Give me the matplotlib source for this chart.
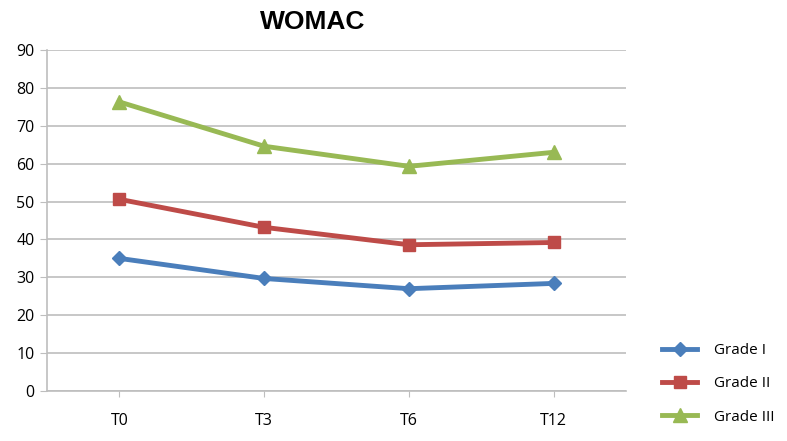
import matplotlib
matplotlib.use("Agg")
import matplotlib.pyplot as plt

categories = ["T0", "T3", "T6", "T12"]
grade1 = [35.0, 29.7, 27.0, 28.4]
grade2 = [50.6, 43.2, 38.6, 39.2]
grade3 = [76.3, 64.6, 59.3, 63.0]
series_names = ["Grade I", "Grade II", "Grade III"]
yticks = [0, 10, 20, 30, 40, 50, 60, 70, 80, 90]

plt.rcParams['font.family'] = ['Open Sans', 'DejaVu Sans']

W, H = 787, 441
fig = plt.figure(figsize=(W / 100, H / 100), dpi=100)
ax = fig.add_axes([47 / W, (H - 391) / H, 579 / W, 341 / H])

x = list(range(len(categories)))
colors = ["#4A7EBB", "#BE4B48", "#98B954"]
markers = ["D", "s", "^"]
msizes = [7, 9, 10]
for vals, c, m, ms, name in zip([grade1, grade2, grade3], colors, markers, msizes, series_names):
    ax.plot(x, vals, color=c, lw=3.5, marker=m, markersize=ms, label=name, zorder=3)

ax.set_xlim(-0.5, len(categories) - 0.5)
ax.set_ylim(0, 90)
ax.set_yticks(yticks)
ax.set_xticks(x)
ax.set_xticklabels(categories)
ax.grid(axis='y', color="#BEBEBE", lw=1.2, zorder=0)
ax.set_axisbelow(True)
for s in ['top', 'right']:
    ax.spines[s].set_visible(False)
for s in ['left', 'bottom']:
    ax.spines[s].set_color("#BEBEBE")
    ax.spines[s].set_linewidth(1.2)
ax.tick_params(axis='y', length=5, color="#BEBEBE", labelsize=11.5, pad=4, labelcolor="#000000")
ax.tick_params(axis='x', length=4, color="#BEBEBE", labelsize=11.5, pad=12, labelcolor="#000000")

fig.text(313 / W, 1 - 22 / H, "WOMAC", ha='center', va='center', fontsize=19,
         fontweight='bold', family=['Liberation Sans', 'DejaVu Sans'])

fig.legend(loc='upper left', bbox_to_anchor=(662 / W, 1 - 343 / H), frameon=False,
           fontsize=11, handlelength=2.3, labelspacing=1.2, handletextpad=1.1,
           borderpad=0, borderaxespad=0)

fig.savefig("out.png", dpi=100)
